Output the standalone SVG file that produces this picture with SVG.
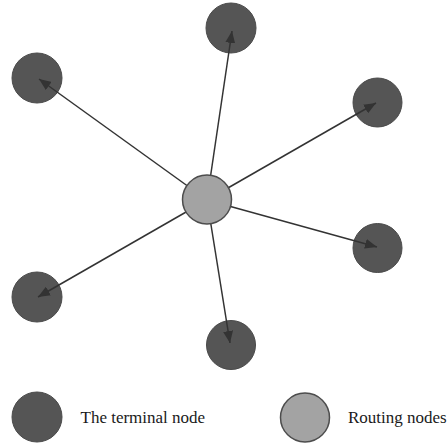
<svg xmlns="http://www.w3.org/2000/svg" width="448" height="443" viewBox="0 0 448 443">
  <style>
    .terminal { fill: #555555; stroke: #4a4a4a; stroke-width: 1; }
    .routing { fill: #a3a3a3; stroke: #4d4d4d; stroke-width: 1.5; }
    .link { stroke: #333333; stroke-width: 1.5; fill: none; marker-end: url(#arrow); }
    .label { font-family: "Liberation Serif", "Times New Roman", serif; font-size: 17px; fill: #1a1a1a; }
  </style>
  <defs>
    <marker id="arrow" viewBox="0 0 12 10" refX="12" refY="5" markerWidth="12" markerHeight="10" markerUnits="userSpaceOnUse" orient="auto">
      <path d="M0,0 L12,5 L0,10 Z" fill="#333333"/>
    </marker>
  </defs>
  <rect width="448" height="443" fill="#ffffff"/>

  <!-- terminal nodes -->
  <g id="terminal-top"><circle class="terminal" cx="231" cy="28" r="25"/></g>
  <g id="terminal-top-left"><circle class="terminal" cx="37" cy="78" r="25"/></g>
  <g id="terminal-top-right"><circle class="terminal" cx="377.5" cy="102.5" r="24.5"/></g>
  <g id="terminal-right"><circle class="terminal" cx="377.5" cy="248" r="24.5"/></g>
  <g id="terminal-bottom-left"><circle class="terminal" cx="37" cy="297" r="25"/></g>
  <g id="terminal-bottom"><circle class="terminal" cx="231" cy="345" r="24.5"/></g>

  <!-- connectors from routing node to terminals -->
  <g id="connectors">
    <line class="link" x1="207" y1="200" x2="232" y2="31"/>
    <line class="link" x1="207" y1="200" x2="39" y2="79"/>
    <line class="link" x1="207" y1="200" x2="376" y2="103"/>
    <line class="link" x1="207" y1="200" x2="377" y2="247"/>
    <line class="link" x1="207" y1="200" x2="38" y2="297"/>
    <line class="link" x1="207" y1="200" x2="230" y2="343"/>
  </g>

  <!-- routing node -->
  <g id="routing-center"><circle class="routing" cx="207" cy="199.5" r="24.5"/></g>

  <!-- legend -->
  <g id="legend-terminal">
    <circle class="terminal" cx="37" cy="417" r="25"/>
    <text class="label" x="80.5" y="423">The terminal node</text>
  </g>
  <g id="legend-routing">
    <circle class="routing" cx="305" cy="417.5" r="24.5"/>
    <text class="label" x="348" y="423">Routing nodes</text>
  </g>
</svg>
